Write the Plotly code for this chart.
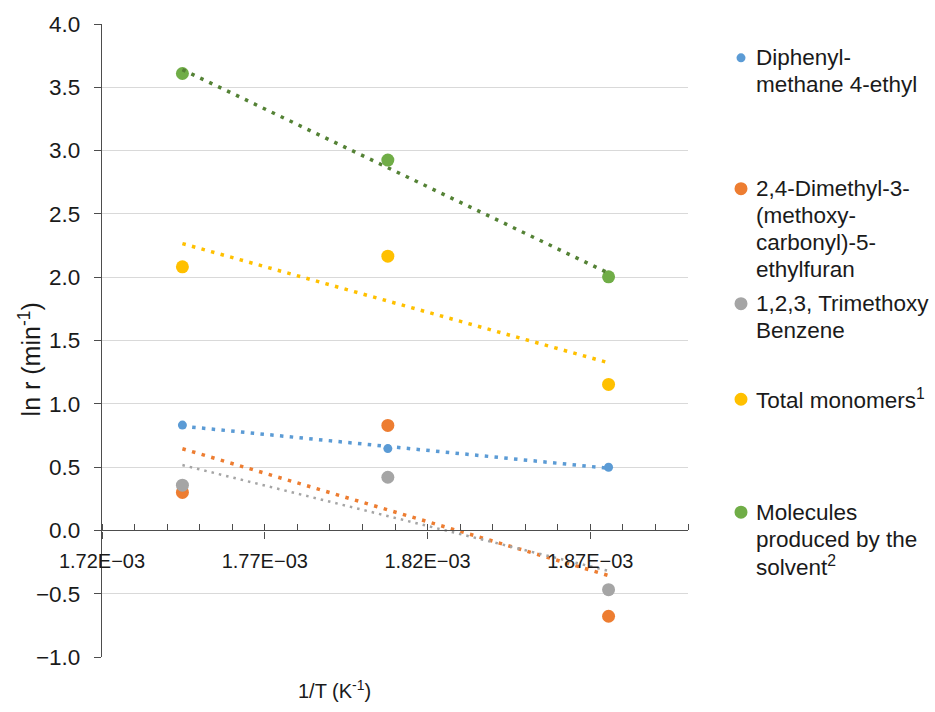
import numpy as np
import plotly.graph_objects as go

# 1/T (K^-1) for the three reaction temperatures
inv_T = [1.7447e-3, 1.8078e-3, 1.8756e-3]

# ln r (min^-1) per product group
diphenylmethane = [0.832, 0.646, 0.499]
dimethylfuran = [0.300, 0.829, -0.678]
trimethoxybenzene = [0.357, 0.420, -0.468]
total_monomers = [2.082, 2.166, 1.153]
solvent_molecules = [3.609, 2.925, 2.003]

legend_lines = [
    ["Diphenyl-", "methane 4-ethyl"],
    ["2,4-Dimethyl-3-", "(methoxy-", "carbonyl)-5-", "ethylfuran"],
    ["1,2,3, Trimethoxy", "Benzene"],
    ["Total monomers<sup>1</sup>"],
    ["Molecules", "produced by the", "solvent<sup>2</sup>"],
]

x_tickvals = [1.72e-3, 1.77e-3, 1.82e-3, 1.87e-3]
x_ticktext = ["1.72E\u221203", "1.77E\u221203", "1.82E\u221203", "1.87E\u221203"]

series = [diphenylmethane, dimethylfuran, trimethoxybenzene, total_monomers, solvent_molecules]
colors = ["#5B9BD5", "#ED7D31", "#A5A5A5", "#FFC000", "#70AD47"]
trend_colors = ["#5B9BD5", "#ED7D31", "#A5A5A5", "#FFC000", "#548235"]
marker_sizes = [9, 13, 13, 13, 13]
trend_widths = [3.5, 3.5, 2.5, 3.5, 3.5]
trend_dash = ["3.5px,6.3px", "3.5px,6.5px", "2.5px,5px", "3.5px,6.4px", "3.5px,6.4px"]

FONT = "Liberation Sans, Arial, Helvetica, sans-serif"
TEXT = "#1a1a1a"
AXIS = "#4d4d4d"

W, H = 935, 712
L, R, T, B = 102, 247, 21, 55
plot_w = W - L - R
plot_h = H - T - B


def px_to_paper(px, py):
    return (px - L) / plot_w, (H - B - py) / plot_h


fig = go.Figure()

# data points
for ys, c, s in zip(series, colors, marker_sizes):
    fig.add_trace(go.Scatter(
        x=inv_T, y=ys, mode="markers",
        marker=dict(color=c, size=s, line=dict(width=0)),
        showlegend=False, hoverinfo="x+y",
    ))

# linear trendlines (least squares) over the measured span
for ys, c, w, d in zip(series, trend_colors, trend_widths, trend_dash):
    slope, intercept = np.polyfit(inv_T, ys, 1)
    xs = [inv_T[0], inv_T[-1]]
    fig.add_trace(go.Scatter(
        x=xs, y=[slope * xv + intercept for xv in xs], mode="lines",
        line=dict(color=c, width=w, dash=d),
        showlegend=False, hoverinfo="skip",
    ))

# custom legend on the right
legend_first_line_y = [55, 186.5, 302, 398, 511.5]
line_step = 27
marker_px = 741
text_px = 754
annotations = []
shapes = []
for lines, c, s, y0 in zip(legend_lines, colors, marker_sizes, legend_first_line_y):
    mx, my = px_to_paper(marker_px, y0)
    r = s / 2
    shapes.append(dict(
        type="circle", xref="paper", yref="paper",
        xsizemode="pixel", ysizemode="pixel",
        xanchor=mx, yanchor=my,
        x0=-r, x1=r, y0=-r, y1=r,
        fillcolor=c, line=dict(width=0),
    ))
    for i, line in enumerate(lines):
        tx, ty = px_to_paper(text_px, y0 + i * line_step)
        annotations.append(dict(
            text=line, xref="paper", yref="paper", x=tx, y=ty,
            xanchor="left", yanchor="middle", showarrow=False,
            font=dict(family=FONT, size=22.5, color=TEXT),
        ))

# axis titles
ax_x, ax_y = px_to_paper(30, 358)
annotations.append(dict(
    text="ln r (min<sup>-1</sup>)", xref="paper", yref="paper", x=ax_x, y=ax_y,
    xanchor="center", yanchor="middle", textangle=-90, showarrow=False,
    font=dict(family=FONT, size=25, color=TEXT),
))
tx_x, tx_y = px_to_paper(334, 690)
annotations.append(dict(
    text="1/T (K<sup>-1</sup>)", xref="paper", yref="paper", x=tx_x, y=tx_y,
    xanchor="center", yanchor="middle", showarrow=False,
    font=dict(family=FONT, size=20, color=TEXT),
))

y_min, y_max = -1.0, 4.0

fig.update_layout(
    width=W, height=H,
    margin=dict(l=L, r=R, t=T, b=B, pad=0),
    paper_bgcolor="white", plot_bgcolor="white",
    font=dict(family=FONT, size=20, color=TEXT),
    showlegend=False,
    annotations=annotations,
    shapes=shapes,
    xaxis=dict(
        range=[1.72e-3, 1.90e-3],
        anchor="free", position=(0 - y_min) / (y_max - y_min),
        showgrid=False, zeroline=False,
        showline=True, linecolor=AXIS, linewidth=1.3,
        tickmode="array", tickvals=x_tickvals, ticktext=x_ticktext,
        ticks="outside", ticklen=7, tickwidth=1.3, tickcolor=AXIS,
        ticklabelstandoff=5,
        minor=dict(ticks="inside", ticklen=6, tickwidth=1.3, tickcolor=AXIS,
                   tick0=1.72e-3, dtick=0.01e-3, showgrid=False),
        tickfont=dict(family=FONT, size=20, color=TEXT),
    ),
    yaxis=dict(
        range=[y_min, y_max], dtick=0.5, tick0=0, tickformat=".1f",
        showgrid=True, gridcolor="#D9D9D9", gridwidth=1.3,
        zeroline=False,
        showline=True, linecolor=AXIS, linewidth=1.3,
        ticks="outside", ticklen=7, tickwidth=1.3, tickcolor=AXIS,
        ticklabelstandoff=9,
        tickfont=dict(family=FONT, size=22.5, color=TEXT),
    ),
)

fig.write_html("out.html")
